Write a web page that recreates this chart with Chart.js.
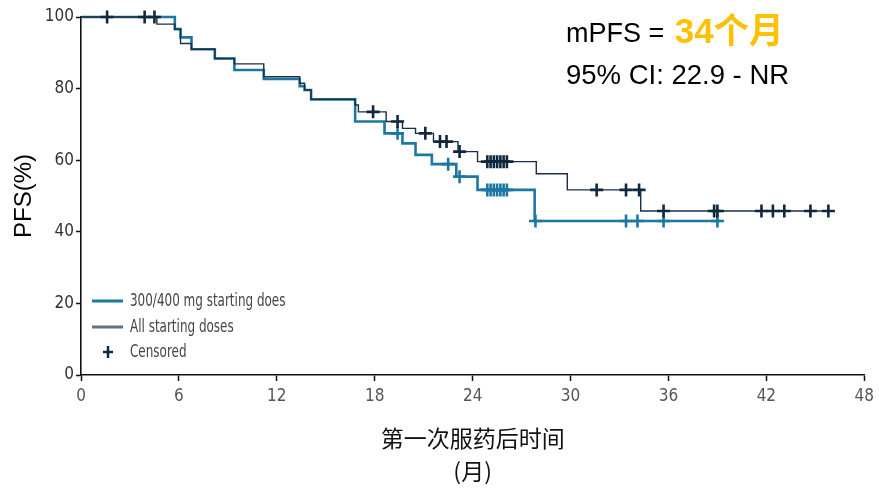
<!DOCTYPE html>
<html>
<head>
<meta charset="utf-8">
<script src="https://cdn.jsdelivr.net/npm/chart.js@4/dist/chart.umd.min.js"></script>
<style>
  html, body { margin: 0; padding: 0; background: #fff; }
  #wrap { width: 879px; height: 489px; position: relative; }
</style>
</head>
<body>
<div id="wrap"><canvas id="km" width="879" height="489"></canvas></div>
<script>
// Kaplan-Meier progression-free survival, months since first dose
const xTicks = [0, 6, 12, 18, 24, 30, 36, 42, 48];
const yTicks = [0, 20, 40, 60, 80, 100];

// All starting doses: event times (months) and PFS (%) after each step
const allTimes = [0, 4.65, 5.75, 6.1, 6.77, 8.2, 9.4, 11.2, 13.4, 13.7, 14.1, 16.8, 17.0, 18.7, 19.7, 20.5, 21.6, 23.1, 24.3, 27.9, 29.8, 34.3, 46.0];
const allPfs   = [100, 98.0, 96.6, 92.6, 91.0, 88.4, 86.9, 83.3, 81.5, 79.6, 77.0, 75.4, 73.5, 70.8, 68.9, 67.5, 65.2, 62.4, 59.6, 56.2, 51.7, 45.8, 45.8];
const allCensored = [1.6, 3.9, 4.5, 17.9, 19.4, 21.1, 22.0, 22.4, 23.2, 24.9, 25.1, 25.3, 25.5, 25.7, 25.9, 26.1, 31.6, 33.4, 34.2, 35.7, 38.8, 39.0, 41.7, 42.4, 43.1, 44.7, 45.8];

// 300/400 mg starting doses
const doseTimes = [0, 5.75, 6.1, 6.77, 8.2, 9.4, 11.2, 13.4, 13.7, 14.1, 16.8, 18.6, 19.7, 20.5, 21.5, 23.0, 24.3, 27.8, 39.2];
const dosePfs   = [100, 96.6, 94.3, 91.0, 88.4, 85.2, 82.7, 80.7, 79.6, 77.0, 70.8, 67.5, 64.7, 61.5, 58.9, 55.4, 51.7, 43.0, 43.0];
const doseCensored = [19.4, 22.5, 23.2, 24.9, 25.1, 25.3, 25.5, 25.7, 25.9, 26.1, 27.85, 33.4, 34.1, 35.7, 39.0];

const seriesNames = ['300/400 mg starting does', 'All starting doses', 'Censored'];

const BLUE = '#1b78a3';
const NAVY = '#1c2f44';
const NAVY_MARK = '#10283d';
const LEGEND_GRAY = '#5f7385';
const NARROW = '"Liberation Sans Narrow", "DejaVu Sans Condensed", "Roboto Condensed", Roboto, sans-serif';

const toPoints = (ts, vs) => ts.map((t, i) => ({ x: t, y: vs[i] }));
// a censored subject sits on the curve level in force at its time
const levelAt = (ts, vs, t) => {
  let v = vs[0];
  for (let i = 0; i < ts.length; i++) { if (ts[i] <= t) v = vs[i]; }
  return v;
};
const censorPoints = (cs, ts, vs) => cs.map(t => ({ x: t, y: levelAt(ts, vs, t) }));

const overlay = {
  id: 'overlay',
  afterDraw(chart) {
    const { ctx, chartArea: a } = chart;
    ctx.save();
    // legend, lower left of the plot
    const lx = a.left + 11, rows = [a.bottom - 74, a.bottom - 48, a.bottom - 23];
    ctx.lineCap = 'butt';
    ctx.strokeStyle = BLUE; ctx.lineWidth = 3;
    ctx.beginPath(); ctx.moveTo(lx, rows[0]); ctx.lineTo(lx + 31, rows[0]); ctx.stroke();
    ctx.strokeStyle = LEGEND_GRAY; ctx.lineWidth = 3;
    ctx.beginPath(); ctx.moveTo(lx, rows[1]); ctx.lineTo(lx + 31, rows[1]); ctx.stroke();
    ctx.strokeStyle = NAVY_MARK; ctx.lineWidth = 2.5;
    ctx.beginPath();
    ctx.moveTo(lx + 16, rows[2] - 6); ctx.lineTo(lx + 16, rows[2] + 6);
    ctx.moveTo(lx + 11, rows[2]); ctx.lineTo(lx + 21, rows[2]);
    ctx.stroke();
    ctx.fillStyle = '#444';
    ctx.font = '18px ' + NARROW;
    ctx.textBaseline = 'middle';
    ctx.textAlign = 'left';
    // condensed face for the legend labels
    seriesNames.forEach((s, i) => {
      ctx.save();
      ctx.translate(lx + 38, rows[i]);
      ctx.scale(0.74, 1);
      ctx.fillText(s, 0, 0);
      ctx.restore();
    });

    // median PFS note, upper right
    const nx = a.left + 485;
    ctx.textBaseline = 'alphabetic';
    ctx.fillStyle = '#000';
    ctx.font = '27px "Liberation Sans", Arial, sans-serif';
    const lead = 'mPFS = ';
    ctx.fillText(lead, nx, a.top + 25);
    const w = ctx.measureText(lead).width;
    ctx.fillStyle = '#FFC000';
    ctx.font = 'bold 35px "Liberation Sans", "Noto Sans CJK SC", sans-serif';
    ctx.fillText('34个月', nx + w + 3, a.top + 26);
    ctx.fillStyle = '#000';
    ctx.font = '27.5px "Liberation Sans", Arial, sans-serif';
    ctx.fillText('95% CI: 22.9 - NR', nx, a.top + 67);
    ctx.restore();
  }
};

new Chart(document.getElementById('km'), {
  type: 'line',
  data: {
    datasets: [
      {
        label: 'Censored (all)',
        type: 'scatter',
        data: censorPoints(allCensored, allTimes, allPfs),
        pointStyle: 'cross', pointRadius: 6.5, borderColor: NAVY_MARK, borderWidth: 2.6,
        clip: false, order: 0
      },
      {
        label: 'Censored (300/400 mg)',
        type: 'scatter',
        data: censorPoints(doseCensored, doseTimes, dosePfs),
        pointStyle: 'cross', pointRadius: 6.5, borderColor: BLUE, borderWidth: 2.6,
        clip: false, order: 1
      },
      {
        label: seriesNames[1],
        data: toPoints(allTimes, allPfs),
        stepped: 'before', borderColor: NAVY, borderWidth: 1.4,
        pointRadius: 0, fill: false, clip: false, order: 2
      },
      {
        label: seriesNames[0],
        data: toPoints(doseTimes, dosePfs),
        stepped: 'before', borderColor: BLUE, borderWidth: 2.6,
        pointRadius: 0, fill: false, clip: false, order: 3
      }
    ]
  },
  options: {
    responsive: false,
    animation: false,
    devicePixelRatio: 1,
    layout: { padding: { left: 0, top: 17, right: 13, bottom: 0 } },
    plugins: { legend: { display: false }, tooltip: { enabled: false } },
    scales: {
      x: {
        type: 'linear', min: 0, max: 48,
        afterBuildTicks: s => { s.ticks = xTicks.map(v => ({ value: v })); },
        afterFit: s => { s.height = 114; },
        grid: { drawOnChartArea: false, drawTicks: true, tickLength: 6, tickWidth: 1.5, tickColor: '#111' },
        border: { display: true, color: '#111', width: 1.6 },
        ticks: { color: '#555', padding: 5, maxRotation: 0, font: { family: NARROW, size: 17 } },
        title: {
          display: true, text: ['第一次服药后时间', '(月)'], color: '#111',
          font: { family: '"Noto Sans CJK SC", "Liberation Sans", sans-serif', size: 23, lineHeight: 1.4 },
          padding: { top: 0, bottom: 2 }
        }
      },
      y: {
        type: 'linear', min: 0, max: 100,
        afterBuildTicks: s => { s.ticks = yTicks.map(v => ({ value: v })); },
        afterFit: s => { s.width = 81; },
        grid: { drawOnChartArea: false, drawTicks: true, tickLength: 5, tickWidth: 1.5, tickColor: '#111' },
        border: { display: true, color: '#111', width: 1.6 },
        ticks: { color: '#333', padding: 2, font: { family: NARROW, size: 17 } },
        title: {
          display: true, text: 'PFS(%)', color: '#000',
          font: { family: '"Liberation Sans", Arial, sans-serif', size: 24, lineHeight: 1.2 },
          padding: { top: 10, bottom: 0 }
        }
      }
    }
  },
  plugins: [overlay]
});
</script>
</body>
</html>
